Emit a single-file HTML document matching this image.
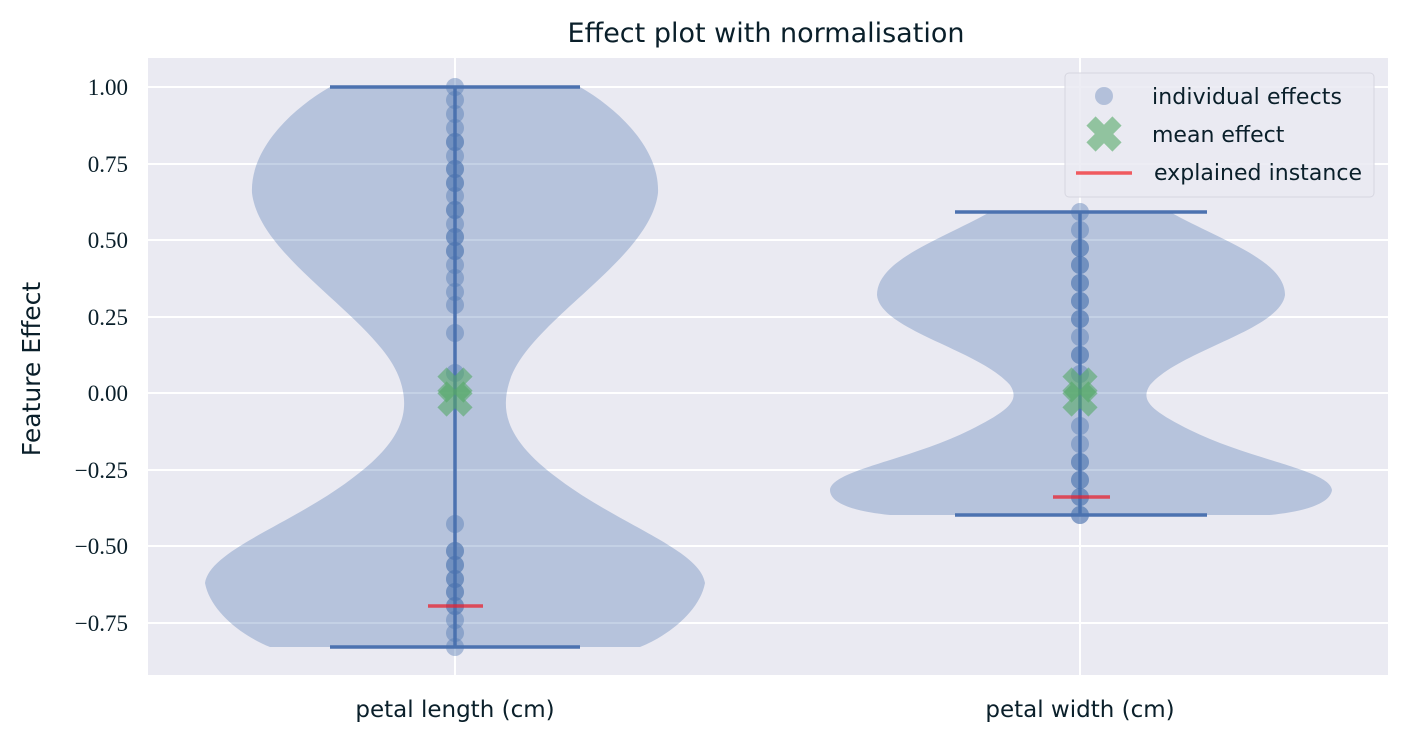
<!DOCTYPE html>
<html><head><style>
body{margin:0;background:#fff;width:1408px;height:742px;overflow:hidden}
svg text{fill:#0a1f2a}
.s{font-family:"DejaVu Sans","Liberation Sans",sans-serif}
.r{font-family:"Liberation Serif","DejaVu Serif",serif}
</style></head><body>
<svg width="1408" height="742" xmlns="http://www.w3.org/2000/svg">
<rect x="148" y="58" width="1240" height="617" fill="#eaeaf2"/>
<g stroke="#fff" stroke-width="2">
<line x1="148" x2="1388" y1="87" y2="87"/><line x1="148" x2="1388" y1="164" y2="164"/>
<line x1="148" x2="1388" y1="240" y2="240"/><line x1="148" x2="1388" y1="317" y2="317"/>
<line x1="148" x2="1388" y1="393" y2="393"/><line x1="148" x2="1388" y1="470" y2="470"/>
<line x1="148" x2="1388" y1="546" y2="546"/><line x1="148" x2="1388" y1="623" y2="623"/>
<line x1="455" x2="455" y1="58" y2="675"/><line x1="1080" x2="1080" y1="58" y2="675"/>
</g>
<path fill="#4c72b0" fill-opacity="0.33" d="M330,87 L580,87 C620,110 660,150 658,193 C650,260 530,320 510,380 C500,410 505,440 560,480 C620,525 700,550 705,583 C700,610 670,635 640,647 L270,647 C240,635 210,610 205,583 C210,550 290,525 350,480 C405,440 410,410 400,380 C380,320 260,260 252,193 C250,150 290,110 330,87 Z"/>
<path fill="#4c72b0" fill-opacity="0.33" d="M990,212 L1170,212 C1220,240 1285,260 1285,295 C1280,330 1180,350 1150,385 C1140,400 1150,410 1190,430 C1250,460 1330,470 1332,490 C1330,505 1300,512 1270,515 L890,515 C860,512 830,505 830,490 C832,470 910,460 970,430 C1010,410 1020,400 1010,385 C980,350 880,330 877,295 C877,260 940,240 990,212 Z"/>
<g stroke="#4c72b0" stroke-width="3.5">
<line x1="330" x2="580" y1="87" y2="87"/><line x1="330" x2="580" y1="647" y2="647"/><line x1="455" x2="455" y1="87" y2="647"/>
<line x1="955" x2="1207" y1="212" y2="212"/><line x1="955" x2="1207" y1="515" y2="515"/><line x1="1080" x2="1080" y1="212" y2="515"/>
</g>
<g fill="#4c72b0" fill-opacity="0.4">
<circle cx="455" cy="87" r="9"/><circle cx="455" cy="100" r="9"/><circle cx="455" cy="114" r="9"/><circle cx="455" cy="128" r="9"/><circle cx="455" cy="142" r="9"/><circle cx="455" cy="142" r="9"/><circle cx="455" cy="156" r="9"/><circle cx="455" cy="169" r="9"/><circle cx="455" cy="169" r="9"/><circle cx="455" cy="183" r="9"/><circle cx="455" cy="183" r="9"/><circle cx="455" cy="196" r="9"/><circle cx="455" cy="210" r="9"/><circle cx="455" cy="210" r="9"/><circle cx="455" cy="224" r="9"/><circle cx="455" cy="237" r="9"/><circle cx="455" cy="237" r="9"/><circle cx="455" cy="251" r="9"/><circle cx="455" cy="251" r="9"/><circle cx="455" cy="265" r="9"/><circle cx="455" cy="278" r="9"/><circle cx="455" cy="292" r="9"/><circle cx="455" cy="305" r="9"/><circle cx="455" cy="333" r="9"/><circle cx="455" cy="373" r="9"/>
<circle cx="455" cy="524" r="9"/><circle cx="455" cy="551" r="9"/><circle cx="455" cy="551" r="9"/><circle cx="455" cy="565" r="9"/><circle cx="455" cy="565" r="9"/><circle cx="455" cy="579" r="9"/><circle cx="455" cy="579" r="9"/><circle cx="455" cy="592" r="9"/><circle cx="455" cy="592" r="9"/><circle cx="455" cy="606" r="9"/><circle cx="455" cy="606" r="9"/><circle cx="455" cy="620" r="9"/><circle cx="455" cy="633" r="9"/><circle cx="455" cy="647" r="9"/>
<circle cx="1080" cy="212" r="9"/><circle cx="1080" cy="230" r="9"/><circle cx="1080" cy="248" r="9"/><circle cx="1080" cy="248" r="9"/><circle cx="1080" cy="265" r="9"/><circle cx="1080" cy="265" r="9"/><circle cx="1080" cy="283" r="9"/><circle cx="1080" cy="283" r="9"/><circle cx="1080" cy="301" r="9"/><circle cx="1080" cy="301" r="9"/><circle cx="1080" cy="319" r="9"/><circle cx="1080" cy="319" r="9"/><circle cx="1080" cy="337" r="9"/><circle cx="1080" cy="355" r="9"/><circle cx="1080" cy="355" r="9"/><circle cx="1080" cy="374" r="9"/><circle cx="1080" cy="426" r="9"/><circle cx="1080" cy="444" r="9"/><circle cx="1080" cy="462" r="9"/><circle cx="1080" cy="462" r="9"/><circle cx="1080" cy="480" r="9"/><circle cx="1080" cy="480" r="9"/><circle cx="1080" cy="497" r="9"/><circle cx="1080" cy="497" r="9"/><circle cx="1080" cy="515" r="9"/><circle cx="1080" cy="515" r="9"/>
</g>
<g stroke="#55a868" stroke-opacity="0.6" stroke-width="13">
<path d="M442,372 L468,398 M468,372 L442,398"/><path d="M442,386 L468,412 M468,386 L442,412"/>
<path d="M1067,372 L1093,398 M1093,372 L1067,398"/><path d="M1067,386 L1093,412 M1093,386 L1067,412"/>
</g>
<g stroke="#e8222f" stroke-opacity="0.75" stroke-width="3.5">
<line x1="428" x2="483" y1="606" y2="606"/><line x1="1053" x2="1110" y1="497" y2="497"/>
</g>
<rect x="1065" y="73" width="309" height="124" rx="4" fill="#eaeaf2" fill-opacity="0.85" stroke="#d6d6e0"/>
<circle cx="1104" cy="96" r="9" fill="#4c72b0" fill-opacity="0.35"/>
<path d="M1091,121 L1117,147 M1117,121 L1091,147" stroke="#55a868" stroke-opacity="0.6" stroke-width="13"/>
<line x1="1076" x2="1132" y1="173" y2="173" stroke="#f05a5f" stroke-width="3.5"/>
<g class="s" font-size="22">
<text x="1152" y="104" textLength="190">individual effects</text>
<text x="1152" y="142">mean effect</text>
<text x="1154" y="180" textLength="208">explained instance</text>
</g>
<text class="s" x="766" y="42" font-size="27" text-anchor="middle">Effect plot with normalisation</text>
<text class="s" x="455" y="717" font-size="23" text-anchor="middle">petal length (cm)</text>
<text class="s" x="1080" y="717" font-size="23" text-anchor="middle">petal width (cm)</text>
<text class="s" font-size="25" transform="translate(40,369) rotate(-90)" text-anchor="middle">Feature Effect</text>
<g class="r" font-size="23" text-anchor="end">
<text x="128" y="95">1.00</text><text x="128" y="172">0.75</text><text x="128" y="248">0.50</text><text x="128" y="325">0.25</text><text x="128" y="401">0.00</text><text x="128" y="478">−0.25</text><text x="128" y="554">−0.50</text><text x="128" y="631">−0.75</text>
</g>
</svg>
</body></html>
